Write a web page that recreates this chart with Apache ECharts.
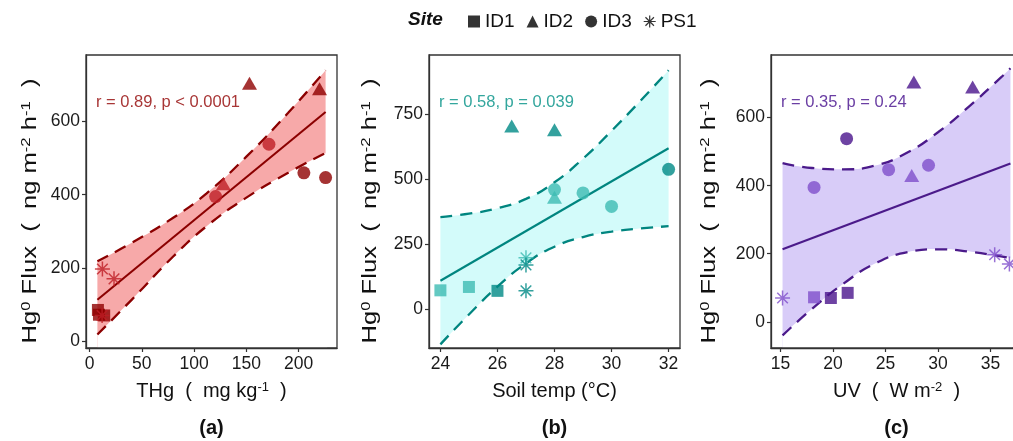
<!DOCTYPE html>
<html>
<head>
<meta charset="utf-8">
<script src="https://cdn.jsdelivr.net/npm/echarts@6/dist/echarts.min.js"></script>
<style>
  html, body { margin: 0; padding: 0; background: #ffffff; }
  #chart { width: 1013px; height: 441px; }
</style>
</head>
<body>
<div id="chart"></div>
<script>
// Hg0 flux against soil THg, soil temperature and UV, one panel each, by site.

// ---- data ----
const sites = ['ID1', 'ID2', 'ID3', 'PS1'];

// Hg0 flux (ng m-2 h-1) per site
const fluxID1 = [72, 85, 70];
const fluxID2 = [705, 690, 430];
const fluxID3 = [460, 447, 395, 538];
const fluxPS1 = [197, 170, 70];

// (a) soil THg (mg kg-1)
const thgID1 = [9, 8, 14];
const thgID2 = [153, 220, 128];
const thgID3 = [205, 225.8, 120.6, 171.6];
const thgPS1 = [12.3, 23.4, 12];

// (b) soil temperature (°C)
const soilID1 = [24, 25, 26];
const soilID2 = [26.5, 28, 28];
const soilID3 = [28, 29, 30, 32];
const soilPS1 = [27, 27, 27];

// (c) UV (W m-2)
const uvID1 = [18.2, 21.4, 19.8];
const uvID2 = [27.7, 33.3, 27.5];
const uvID3 = [29.1, 25.3, 18.2, 21.3];
const uvPS1 = [35.4, 36.8, 15.2];

// linear fit and 95% confidence band per panel
const fitXA = [7.5, 225.8];
const fitYA = [113, 626];
const bandXA = [7.5, 40, 80, 112, 150, 190, 225.8];
const bandUpperA = [218, 268, 337, 404, 504, 624, 740];
const bandLowerA = [18, 112, 231, 314, 392, 460, 514];

const fitXB = [24, 32];
const fitYB = [109, 619];
const bandXB = [24, 25, 26, 27, 28, 29, 30, 31, 32];
const bandUpperB = [354, 367, 388, 424, 488, 579, 686, 800, 919];
const bandLowerB = [-136, -21, 86, 176, 240, 277, 298, 310, 319];

const fitXC = [15.2, 36.9];
const fitYC = [213, 465];
const bandXC = [15.2, 18, 21, 24, 27, 30, 33, 36, 36.9];
const bandUpperC = [466, 452, 448, 459, 496, 557, 634, 718, 745];
const bandLowerC = [-40, 38, 112, 171, 204, 213, 206, 192, 187];

// tick values
const ticksXA = [0, 50, 100, 150, 200];
const ticksYA = [0, 200, 400, 600];
const ticksXB = [24, 26, 28, 30, 32];
const ticksYB = [0, 250, 500, 750];
const ticksXC = [15, 20, 25, 30, 35];
const ticksYC = [0, 200, 400, 600];

const statA = 'r = 0.89, p < 0.0001';
const statB = 'r = 0.58, p = 0.039';
const statC = 'r = 0.35, p = 0.24';

// ---- styling ----
const FONT = '"Liberation Sans", Arial, Helvetica, sans-serif';
const AXIS = '#333333';
const STAR = 'path://M9 0H11V20H9Z M0 9H20V11H0Z M3.64 2.22L17.78 16.36L16.36 17.78L2.22 3.64Z M16.36 2.22L17.78 3.64L3.64 17.78L2.22 16.36Z';
const symbols = { ID1: 'rect', ID2: 'triangle', ID3: 'circle', PS1: STAR };
const symbolSizes = { ID1: 12, ID2: [15, 13], ID3: 13, PS1: 15 };

// colour shade per point (0 = dark, 1 = lighter), per panel
const shades = [
  { ID1: [0, 0, 0], ID2: [0, 0, 1], ID3: [0, 0, 1, 1], PS1: [1, 1, 1] },
  { ID1: [1, 1, 0], ID2: [0, 0, 1], ID3: [1, 1, 1, 0], PS1: [1, 0, 0] },
  { ID1: [1, 0, 0], ID2: [0, 0, 1], ID3: [1, 1, 1, 0], PS1: [1, 1, 1] }
];

const palettes = [
  { tones: ['#8E0000', '#BE1E26'], line: '#8B0000', band: '#F7A9A9', text: '#A83636' },
  { tones: ['#008A86', '#3DBCB3'], line: '#00857F', band: '#D3FBFA', text: '#33A69D' },
  { tones: ['#4A148C', '#7F4FCA'], line: '#4B1A8A', band: '#D8CCF8', text: '#6A3EA3' }
];

const flux = { ID1: fluxID1, ID2: fluxID2, ID3: fluxID3, PS1: fluxPS1 };
const panels = [
  {
    x: { ID1: thgID1, ID2: thgID2, ID3: thgID3, PS1: thgPS1 },
    fitX: fitXA, fitY: fitYA, bandX: bandXA, upper: bandUpperA, lower: bandLowerA,
    xTicks: ticksXA, yTicks: ticksYA, xMin: -3.4, xMax: 236.7, yMin: -19, yMax: 782,
    xName: '{t|THg  (  mg kg}{s|-1}{t|  )}', stat: statA, tag: '(a)'
  },
  {
    x: { ID1: soilID1, ID2: soilID2, ID3: soilID3, PS1: soilPS1 },
    fitX: fitXB, fitY: fitYB, bandX: bandXB, upper: bandUpperB, lower: bandLowerB,
    xTicks: ticksXB, yTicks: ticksYB, xMin: 23.6, xMax: 32.4, yMin: -150, yMax: 978,
    xName: '{t|Soil temp (°C)}', stat: statB, tag: '(b)'
  },
  {
    x: { ID1: uvID1, ID2: uvID2, ID3: uvID3, PS1: uvPS1 },
    fitX: fitXC, fitY: fitYC, bandX: bandXC, upper: bandUpperC, lower: bandLowerC,
    xTicks: ticksXC, yTicks: ticksYC, xMin: 14.1, xMax: 38.0, yMin: -77, yMax: 784,
    xName: '{t|UV  (  W m}{s|-2}{t|  )}', stat: statC, tag: '(c)'
  }
];

const gridLefts = [86, 429, 771];
const GRID_TOP = 55, GRID_W = 251, GRID_H = 293;
const yTitleX = [30, 370, 709];

const yName = '{t|Hg}{s|0}{t| Flux  (  ng m}{s|-2}{t| h}{s|-1}{t|  )}';
const nameRich = {
  t: { fontSize: 20, fontFamily: FONT, color: '#111', fill: '#111' },
  s: { fontSize: 13, fontFamily: FONT, color: '#111', fill: '#111', verticalAlign: 'top' }
};

const grid = [], xAxis = [], yAxis = [], series = [], graphic = [];

panels.forEach((p, i) => {
  const pal = palettes[i];
  // grid frame drawn above the band fills so the mask never hides it
  grid.push({
    left: gridLefts[i], top: GRID_TOP, width: GRID_W, height: GRID_H, z: 5,
    show: true, borderColor: AXIS, borderWidth: 1.3, backgroundColor: 'transparent',
    containLabel: false, outerBoundsMode: 'none'
  });
  const axisCommon = {
    type: 'value', gridIndex: i, splitLine: { show: false },
    axisLine: { show: true, onZero: false, lineStyle: { color: AXIS, width: 1.3 } }
  };
  xAxis.push(Object.assign({}, axisCommon, {
    min: p.xMin, max: p.xMax,
    axisTick: { show: true, length: 4, customValues: p.xTicks, lineStyle: { color: AXIS, width: 1.2 } },
    axisLabel: { customValues: p.xTicks, color: '#1a1a1a', fontSize: 17.5, fontFamily: FONT, margin: 7 },
    name: p.xName, nameLocation: 'middle', nameGap: 33, nameTextStyle: { rich: nameRich }
  }));
  yAxis.push(Object.assign({}, axisCommon, {
    min: p.yMin, max: p.yMax,
    axisTick: { show: true, length: 4, customValues: p.yTicks, lineStyle: { color: AXIS, width: 1.2 } },
    axisLabel: { customValues: p.yTicks, color: '#1a1a1a', fontSize: 17.5, fontFamily: FONT, margin: 6 }
  }));

  // confidence band: upper edge filled downward, then the part below the lower edge cleared
  series.push({
    type: 'line', name: 'ci-fill-' + i, xAxisIndex: i, yAxisIndex: i,
    data: p.bandX.map((x, k) => [x, p.upper[k]]), smooth: 0.5, symbol: 'none',
    lineStyle: { opacity: 0 }, areaStyle: { color: pal.band, opacity: 1, origin: 'start' },
    silent: true, z: 1, animation: false
  });
  series.push({
    type: 'line', name: 'ci-clear-' + i, xAxisIndex: i, yAxisIndex: i,
    data: p.bandX.map((x, k) => [x, p.lower[k]]), smooth: 0.5, symbol: 'none',
    lineStyle: { opacity: 0 },
    areaStyle: { color: '#ffffff', opacity: 1, origin: 'start', shadowColor: '#ffffff', shadowOffsetX: 1.5, shadowBlur: 0 },
    silent: true, z: 1, animation: false
  });
  // dashed band edges
  [p.upper, p.lower].forEach((edge, e) => {
    series.push({
      type: 'line', name: 'ci-edge-' + i + '-' + e, xAxisIndex: i, yAxisIndex: i,
      data: p.bandX.map((x, k) => [x, edge[k]]), smooth: 0.5, symbol: 'none',
      lineStyle: { color: pal.line, width: 2.3, type: [12, 8] }, silent: true, z: 3, animation: false
    });
  });
  // fitted line
  series.push({
    type: 'line', name: 'fit-' + i, xAxisIndex: i, yAxisIndex: i,
    data: p.fitX.map((x, k) => [x, p.fitY[k]]), symbol: 'none',
    lineStyle: { color: pal.line, width: 2.1 }, silent: true, z: 3, animation: false
  });
  // observations
  sites.forEach(s => {
    series.push({
      type: 'scatter', name: s, xAxisIndex: i, yAxisIndex: i,
      symbol: symbols[s], symbolSize: symbolSizes[s],
      data: p.x[s].map((x, k) => ({
        value: [x, flux[s][k]],
        itemStyle: { color: pal.tones[shades[i][s][k]] }
      })),
      z: 4, animation: false
    });
  });

  // y-axis title, stretched along its reading direction
  graphic.push({
    type: 'text', x: yTitleX[i], y: 211, rotation: Math.PI / 2, scaleX: 1.28,
    style: { text: yName, rich: nameRich, align: 'center', verticalAlign: 'middle', fill: '#111', font: '20px ' + FONT }
  });
  // correlation statistic and panel tag
  graphic.push({
    type: 'text', left: gridLefts[i] + 10, top: 94,
    style: { text: p.stat, fill: pal.text, font: '16.5px ' + FONT }
  });
  graphic.push({
    type: 'text', x: gridLefts[i] + GRID_W / 2, y: 428,
    style: { text: p.tag, fill: '#111', font: 'bold 20px ' + FONT, align: 'center', verticalAlign: 'middle' }
  });
});

graphic.push({
  type: 'text', x: 408, y: 20,
  style: { text: 'Site', fill: '#111', font: 'italic bold 19px ' + FONT, verticalAlign: 'middle' }
});

const chart = echarts.init(document.getElementById('chart'), null, { renderer: 'canvas' });
chart.setOption({
  animation: false,
  backgroundColor: '#ffffff',
  textStyle: { fontFamily: FONT },
  legend: {
    left: 463, top: 7, itemWidth: 12, itemHeight: 12, itemGap: 12,
    data: sites.map(s => ({ name: s, icon: symbols[s] })),
    itemStyle: { color: '#000000' },
    textStyle: { color: '#111', fontSize: 19, fontFamily: FONT },
    selectedMode: false
  },
  grid, xAxis, yAxis, series, graphic
});
</script>
</body>
</html>
